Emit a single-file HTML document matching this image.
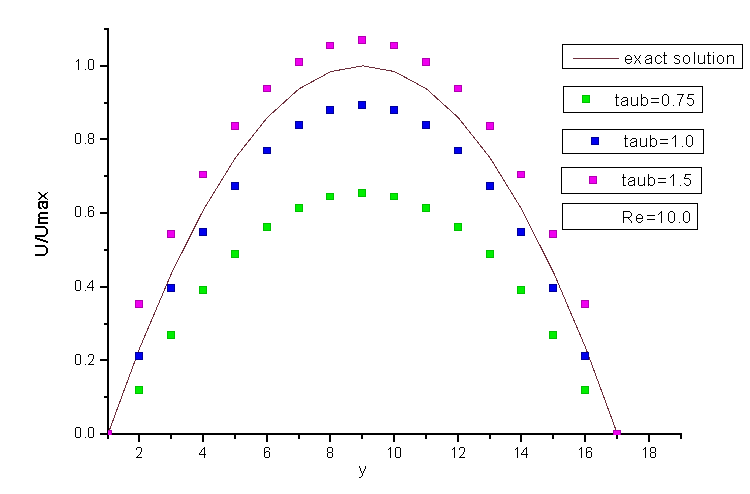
<!DOCTYPE html><html><head><meta charset="utf-8"><style>html,body{margin:0;padding:0;background:#fff;overflow:hidden;}svg{display:block;}text{font-family:"Liberation Sans",sans-serif;}</style></head><body>
<svg width="750" height="494" viewBox="0 0 750 494" shape-rendering="crispEdges">
<rect x="0" y="0" width="750" height="494" fill="#fff"/>
<defs><filter id="th" x="-10%" y="-10%" width="120%" height="120%" color-interpolation-filters="sRGB"><feComponentTransfer><feFuncA type="discrete" tableValues="0 0 1 1"/></feComponentTransfer></filter><clipPath id="pc"><rect x="108" y="0" width="642" height="435"/></clipPath></defs>
<rect x="107" y="28" width="2" height="411" fill="#000"/>
<rect x="100" y="433" width="582" height="2" fill="#000"/>
<rect x="100" y="433" width="7" height="2" fill="#000"/>
<rect x="104" y="396" width="3" height="2" fill="#000"/>
<rect x="100" y="359" width="7" height="2" fill="#000"/>
<rect x="104" y="323" width="3" height="2" fill="#000"/>
<rect x="100" y="286" width="7" height="2" fill="#000"/>
<rect x="104" y="249" width="3" height="2" fill="#000"/>
<rect x="100" y="212" width="7" height="2" fill="#000"/>
<rect x="104" y="175" width="3" height="2" fill="#000"/>
<rect x="100" y="138" width="7" height="2" fill="#000"/>
<rect x="104" y="102" width="3" height="2" fill="#000"/>
<rect x="100" y="65" width="7" height="2" fill="#000"/>
<rect x="104" y="28" width="3" height="2" fill="#000"/>
<rect x="107" y="435" width="2" height="4" fill="#000"/>
<rect x="138" y="435" width="2" height="7" fill="#000"/>
<rect x="170" y="435" width="2" height="4" fill="#000"/>
<rect x="202" y="435" width="2" height="7" fill="#000"/>
<rect x="234" y="435" width="2" height="4" fill="#000"/>
<rect x="266" y="435" width="2" height="7" fill="#000"/>
<rect x="298" y="435" width="2" height="4" fill="#000"/>
<rect x="329" y="435" width="2" height="7" fill="#000"/>
<rect x="361" y="435" width="2" height="4" fill="#000"/>
<rect x="393" y="435" width="2" height="7" fill="#000"/>
<rect x="425" y="435" width="2" height="4" fill="#000"/>
<rect x="457" y="435" width="2" height="7" fill="#000"/>
<rect x="489" y="435" width="2" height="4" fill="#000"/>
<rect x="520" y="435" width="2" height="7" fill="#000"/>
<rect x="552" y="435" width="2" height="4" fill="#000"/>
<rect x="584" y="435" width="2" height="7" fill="#000"/>
<rect x="616" y="435" width="2" height="4" fill="#000"/>
<rect x="648" y="435" width="2" height="7" fill="#000"/>
<rect x="680" y="435" width="2" height="4" fill="#000"/>
<polyline points="108.00,434.00 139.84,347.71 171.68,272.92 203.52,209.64 235.36,157.87 267.20,117.60 299.04,88.83 330.88,71.57 362.72,65.82 394.56,71.57 426.40,88.83 458.24,117.60 490.08,157.87 521.92,209.64 553.76,272.92 585.60,347.71 617.44,434.00" fill="none" stroke="#6c2f3c" stroke-width="1" shape-rendering="crispEdges"/>
<g clip-path="url(#pc)">
<rect x="104.5" y="430.5" width="7" height="7" fill="#00ee00" stroke="#00c000" stroke-width="1"/>
<rect x="135.5" y="386.5" width="7" height="7" fill="#00ee00" stroke="#00c000" stroke-width="1"/>
<rect x="167.5" y="331.5" width="7" height="7" fill="#00ee00" stroke="#00c000" stroke-width="1"/>
<rect x="199.5" y="286.5" width="7" height="7" fill="#00ee00" stroke="#00c000" stroke-width="1"/>
<rect x="231.5" y="250.5" width="7" height="7" fill="#00ee00" stroke="#00c000" stroke-width="1"/>
<rect x="263.5" y="223.5" width="7" height="7" fill="#00ee00" stroke="#00c000" stroke-width="1"/>
<rect x="295.5" y="204.5" width="7" height="7" fill="#00ee00" stroke="#00c000" stroke-width="1"/>
<rect x="326.5" y="193.5" width="7" height="6" fill="#00ee00" stroke="#00c000" stroke-width="1"/>
<rect x="358.5" y="189.5" width="7" height="7" fill="#00ee00" stroke="#00c000" stroke-width="1"/>
<rect x="390.5" y="193.5" width="7" height="6" fill="#00ee00" stroke="#00c000" stroke-width="1"/>
<rect x="422.5" y="204.5" width="7" height="7" fill="#00ee00" stroke="#00c000" stroke-width="1"/>
<rect x="454.5" y="223.5" width="7" height="7" fill="#00ee00" stroke="#00c000" stroke-width="1"/>
<rect x="486.5" y="250.5" width="7" height="7" fill="#00ee00" stroke="#00c000" stroke-width="1"/>
<rect x="517.5" y="286.5" width="7" height="7" fill="#00ee00" stroke="#00c000" stroke-width="1"/>
<rect x="549.5" y="331.5" width="7" height="7" fill="#00ee00" stroke="#00c000" stroke-width="1"/>
<rect x="581.5" y="386.5" width="7" height="7" fill="#00ee00" stroke="#00c000" stroke-width="1"/>
<rect x="613.5" y="430.5" width="7" height="7" fill="#00ee00" stroke="#00c000" stroke-width="1"/>
<rect x="104.5" y="430.5" width="7" height="7" fill="#0000ee" stroke="#000099" stroke-width="1"/>
<rect x="135.5" y="352.5" width="7" height="7" fill="#0000ee" stroke="#000099" stroke-width="1"/>
<rect x="167.5" y="284.5" width="7" height="7" fill="#0000ee" stroke="#000099" stroke-width="1"/>
<rect x="199.5" y="228.5" width="7" height="7" fill="#0000ee" stroke="#000099" stroke-width="1"/>
<rect x="231.5" y="182.5" width="7" height="7" fill="#0000ee" stroke="#000099" stroke-width="1"/>
<rect x="263.5" y="147.5" width="7" height="6" fill="#0000ee" stroke="#000099" stroke-width="1"/>
<rect x="295.5" y="121.5" width="7" height="7" fill="#0000ee" stroke="#000099" stroke-width="1"/>
<rect x="326.5" y="106.5" width="7" height="7" fill="#0000ee" stroke="#000099" stroke-width="1"/>
<rect x="358.5" y="101.5" width="7" height="7" fill="#0000ee" stroke="#000099" stroke-width="1"/>
<rect x="390.5" y="106.5" width="7" height="7" fill="#0000ee" stroke="#000099" stroke-width="1"/>
<rect x="422.5" y="121.5" width="7" height="7" fill="#0000ee" stroke="#000099" stroke-width="1"/>
<rect x="454.5" y="147.5" width="7" height="6" fill="#0000ee" stroke="#000099" stroke-width="1"/>
<rect x="486.5" y="182.5" width="7" height="7" fill="#0000ee" stroke="#000099" stroke-width="1"/>
<rect x="517.5" y="228.5" width="7" height="7" fill="#0000ee" stroke="#000099" stroke-width="1"/>
<rect x="549.5" y="284.5" width="7" height="7" fill="#0000ee" stroke="#000099" stroke-width="1"/>
<rect x="581.5" y="352.5" width="7" height="7" fill="#0000ee" stroke="#000099" stroke-width="1"/>
<rect x="613.5" y="430.5" width="7" height="7" fill="#0000ee" stroke="#000099" stroke-width="1"/>
<rect x="104.5" y="430.5" width="7" height="7" fill="#f000f0" stroke="#b000b0" stroke-width="1"/>
<rect x="135.5" y="300.5" width="7" height="7" fill="#f000f0" stroke="#b000b0" stroke-width="1"/>
<rect x="167.5" y="230.5" width="7" height="7" fill="#f000f0" stroke="#b000b0" stroke-width="1"/>
<rect x="199.5" y="171.5" width="7" height="6" fill="#f000f0" stroke="#b000b0" stroke-width="1"/>
<rect x="231.5" y="122.5" width="7" height="7" fill="#f000f0" stroke="#b000b0" stroke-width="1"/>
<rect x="263.5" y="85.5" width="7" height="6" fill="#f000f0" stroke="#b000b0" stroke-width="1"/>
<rect x="295.5" y="58.5" width="7" height="7" fill="#f000f0" stroke="#b000b0" stroke-width="1"/>
<rect x="326.5" y="42.5" width="7" height="6" fill="#f000f0" stroke="#b000b0" stroke-width="1"/>
<rect x="358.5" y="36.5" width="7" height="7" fill="#f000f0" stroke="#b000b0" stroke-width="1"/>
<rect x="390.5" y="42.5" width="7" height="6" fill="#f000f0" stroke="#b000b0" stroke-width="1"/>
<rect x="422.5" y="58.5" width="7" height="7" fill="#f000f0" stroke="#b000b0" stroke-width="1"/>
<rect x="454.5" y="85.5" width="7" height="6" fill="#f000f0" stroke="#b000b0" stroke-width="1"/>
<rect x="486.5" y="122.5" width="7" height="7" fill="#f000f0" stroke="#b000b0" stroke-width="1"/>
<rect x="517.5" y="171.5" width="7" height="6" fill="#f000f0" stroke="#b000b0" stroke-width="1"/>
<rect x="549.5" y="230.5" width="7" height="7" fill="#f000f0" stroke="#b000b0" stroke-width="1"/>
<rect x="581.5" y="300.5" width="7" height="7" fill="#f000f0" stroke="#b000b0" stroke-width="1"/>
<rect x="613.5" y="430.5" width="7" height="7" fill="#f000f0" stroke="#b000b0" stroke-width="1"/>
</g>
<rect x="562.5" y="44.5" width="180" height="24" fill="#fff" stroke="#000" stroke-width="1"/>
<rect x="573" y="58" width="46" height="1" fill="#6c2f3c"/>
<rect x="563.5" y="86.5" width="139" height="26" fill="#fff" stroke="#000" stroke-width="1"/>
<rect x="582.5" y="95.5" width="7" height="7" fill="#00ee00" stroke="#00c000" stroke-width="1"/>
<rect x="562.5" y="129.5" width="141" height="24" fill="#fff" stroke="#000" stroke-width="1"/>
<rect x="591.5" y="137.5" width="7" height="7" fill="#0000ee" stroke="#000099" stroke-width="1"/>
<rect x="561.5" y="167.5" width="140" height="26" fill="#fff" stroke="#000" stroke-width="1"/>
<rect x="589.5" y="176.5" width="7" height="7" fill="#f000f0" stroke="#b000b0" stroke-width="1"/>
<rect x="562.5" y="203.5" width="135" height="26" fill="#fff" stroke="#000" stroke-width="1"/>
<path d="M76 427h4v1h-4zM75 428h1v1h-1zM80 428h1v1h-1zM75 429h1v1h-1zM80 429h1v1h-1zM75 430h1v1h-1zM80 430h1v1h-1zM75 431h1v1h-1zM80 431h1v1h-1zM75 432h1v1h-1zM80 432h1v1h-1zM75 433h1v1h-1zM80 433h1v1h-1zM75 434h1v1h-1zM80 434h1v1h-1zM75 435h1v1h-1zM80 435h1v1h-1zM75 436h1v1h-1zM80 436h1v1h-1zM76 437h4v1h-4zM85 437h1v1h-1zM89 427h4v1h-4zM88 428h1v1h-1zM93 428h1v1h-1zM88 429h1v1h-1zM93 429h1v1h-1zM88 430h1v1h-1zM93 430h1v1h-1zM88 431h1v1h-1zM93 431h1v1h-1zM88 432h1v1h-1zM93 432h1v1h-1zM88 433h1v1h-1zM93 433h1v1h-1zM88 434h1v1h-1zM93 434h1v1h-1zM88 435h1v1h-1zM93 435h1v1h-1zM88 436h1v1h-1zM93 436h1v1h-1zM89 437h4v1h-4zM76 354h4v1h-4zM75 355h1v1h-1zM80 355h1v1h-1zM75 356h1v1h-1zM80 356h1v1h-1zM75 357h1v1h-1zM80 357h1v1h-1zM75 358h1v1h-1zM80 358h1v1h-1zM75 359h1v1h-1zM80 359h1v1h-1zM75 360h1v1h-1zM80 360h1v1h-1zM75 361h1v1h-1zM80 361h1v1h-1zM75 362h1v1h-1zM80 362h1v1h-1zM75 363h1v1h-1zM80 363h1v1h-1zM76 364h4v1h-4zM85 364h1v1h-1zM89 354h4v1h-4zM88 355h1v1h-1zM93 355h1v1h-1zM88 356h1v1h-1zM93 356h1v1h-1zM93 357h1v1h-1zM93 358h1v1h-1zM92 359h1v1h-1zM92 360h1v1h-1zM91 361h1v1h-1zM90 362h1v1h-1zM89 363h1v1h-1zM88 364h6v1h-6zM76 280h4v1h-4zM75 281h1v1h-1zM80 281h1v1h-1zM75 282h1v1h-1zM80 282h1v1h-1zM75 283h1v1h-1zM80 283h1v1h-1zM75 284h1v1h-1zM80 284h1v1h-1zM75 285h1v1h-1zM80 285h1v1h-1zM75 286h1v1h-1zM80 286h1v1h-1zM75 287h1v1h-1zM80 287h1v1h-1zM75 288h1v1h-1zM80 288h1v1h-1zM75 289h1v1h-1zM80 289h1v1h-1zM76 290h4v1h-4zM85 290h1v1h-1zM92 280h1v1h-1zM91 281h2v1h-2zM90 282h1v1h-1zM92 282h1v1h-1zM89 283h1v1h-1zM92 283h1v1h-1zM89 284h1v1h-1zM92 284h1v1h-1zM88 285h1v1h-1zM92 285h1v1h-1zM87 286h1v1h-1zM92 286h1v1h-1zM87 287h7v1h-7zM92 288h1v1h-1zM92 289h1v1h-1zM92 290h1v1h-1zM76 206h4v1h-4zM75 207h1v1h-1zM80 207h1v1h-1zM75 208h1v1h-1zM80 208h1v1h-1zM75 209h1v1h-1zM80 209h1v1h-1zM75 210h1v1h-1zM80 210h1v1h-1zM75 211h1v1h-1zM80 211h1v1h-1zM75 212h1v1h-1zM80 212h1v1h-1zM75 213h1v1h-1zM80 213h1v1h-1zM75 214h1v1h-1zM80 214h1v1h-1zM75 215h1v1h-1zM80 215h1v1h-1zM76 216h4v1h-4zM85 216h1v1h-1zM89 206h4v1h-4zM88 207h1v1h-1zM93 207h1v1h-1zM88 208h1v1h-1zM93 208h1v1h-1zM88 209h1v1h-1zM88 210h1v1h-1zM90 210h3v1h-3zM88 211h2v1h-2zM93 211h1v1h-1zM88 212h1v1h-1zM93 212h1v1h-1zM88 213h1v1h-1zM93 213h1v1h-1zM88 214h1v1h-1zM93 214h1v1h-1zM88 215h1v1h-1zM93 215h1v1h-1zM89 216h4v1h-4zM76 133h4v1h-4zM75 134h1v1h-1zM80 134h1v1h-1zM75 135h1v1h-1zM80 135h1v1h-1zM75 136h1v1h-1zM80 136h1v1h-1zM75 137h1v1h-1zM80 137h1v1h-1zM75 138h1v1h-1zM80 138h1v1h-1zM75 139h1v1h-1zM80 139h1v1h-1zM75 140h1v1h-1zM80 140h1v1h-1zM75 141h1v1h-1zM80 141h1v1h-1zM75 142h1v1h-1zM80 142h1v1h-1zM76 143h4v1h-4zM85 143h1v1h-1zM89 133h4v1h-4zM88 134h1v1h-1zM93 134h1v1h-1zM88 135h1v1h-1zM93 135h1v1h-1zM88 136h1v1h-1zM93 136h1v1h-1zM88 137h1v1h-1zM93 137h1v1h-1zM89 138h4v1h-4zM88 139h1v1h-1zM93 139h1v1h-1zM88 140h1v1h-1zM93 140h1v1h-1zM88 141h1v1h-1zM93 141h1v1h-1zM88 142h1v1h-1zM93 142h1v1h-1zM89 143h4v1h-4zM78 59h1v1h-1zM77 60h2v1h-2zM76 61h1v1h-1zM78 61h1v1h-1zM78 62h1v1h-1zM78 63h1v1h-1zM78 64h1v1h-1zM78 65h1v1h-1zM78 66h1v1h-1zM78 67h1v1h-1zM78 68h1v1h-1zM78 69h1v1h-1zM85 69h1v1h-1zM89 59h4v1h-4zM88 60h1v1h-1zM93 60h1v1h-1zM88 61h1v1h-1zM93 61h1v1h-1zM88 62h1v1h-1zM93 62h1v1h-1zM88 63h1v1h-1zM93 63h1v1h-1zM88 64h1v1h-1zM93 64h1v1h-1zM88 65h1v1h-1zM93 65h1v1h-1zM88 66h1v1h-1zM93 66h1v1h-1zM88 67h1v1h-1zM93 67h1v1h-1zM88 68h1v1h-1zM93 68h1v1h-1zM89 69h4v1h-4zM137 447h4v1h-4zM136 448h1v1h-1zM141 448h1v1h-1zM136 449h1v1h-1zM141 449h1v1h-1zM141 450h1v1h-1zM141 451h1v1h-1zM140 452h1v1h-1zM140 453h1v1h-1zM139 454h1v1h-1zM138 455h1v1h-1zM137 456h1v1h-1zM136 457h6v1h-6zM204 447h1v1h-1zM203 448h2v1h-2zM202 449h1v1h-1zM204 449h1v1h-1zM201 450h1v1h-1zM204 450h1v1h-1zM201 451h1v1h-1zM204 451h1v1h-1zM200 452h1v1h-1zM204 452h1v1h-1zM199 453h1v1h-1zM204 453h1v1h-1zM199 454h7v1h-7zM204 455h1v1h-1zM204 456h1v1h-1zM204 457h1v1h-1zM265 447h4v1h-4zM264 448h1v1h-1zM269 448h1v1h-1zM264 449h1v1h-1zM269 449h1v1h-1zM264 450h1v1h-1zM264 451h1v1h-1zM266 451h3v1h-3zM264 452h2v1h-2zM269 452h1v1h-1zM264 453h1v1h-1zM269 453h1v1h-1zM264 454h1v1h-1zM269 454h1v1h-1zM264 455h1v1h-1zM269 455h1v1h-1zM264 456h1v1h-1zM269 456h1v1h-1zM265 457h4v1h-4zM328 447h4v1h-4zM327 448h1v1h-1zM332 448h1v1h-1zM327 449h1v1h-1zM332 449h1v1h-1zM327 450h1v1h-1zM332 450h1v1h-1zM327 451h1v1h-1zM332 451h1v1h-1zM328 452h4v1h-4zM327 453h1v1h-1zM332 453h1v1h-1zM327 454h1v1h-1zM332 454h1v1h-1zM327 455h1v1h-1zM332 455h1v1h-1zM327 456h1v1h-1zM332 456h1v1h-1zM328 457h4v1h-4zM390 447h1v1h-1zM389 448h2v1h-2zM388 449h1v1h-1zM390 449h1v1h-1zM390 450h1v1h-1zM390 451h1v1h-1zM390 452h1v1h-1zM390 453h1v1h-1zM390 454h1v1h-1zM390 455h1v1h-1zM390 456h1v1h-1zM390 457h1v1h-1zM396 447h4v1h-4zM395 448h1v1h-1zM400 448h1v1h-1zM395 449h1v1h-1zM400 449h1v1h-1zM395 450h1v1h-1zM400 450h1v1h-1zM395 451h1v1h-1zM400 451h1v1h-1zM395 452h1v1h-1zM400 452h1v1h-1zM395 453h1v1h-1zM400 453h1v1h-1zM395 454h1v1h-1zM400 454h1v1h-1zM395 455h1v1h-1zM400 455h1v1h-1zM395 456h1v1h-1zM400 456h1v1h-1zM396 457h4v1h-4zM454 447h1v1h-1zM453 448h2v1h-2zM452 449h1v1h-1zM454 449h1v1h-1zM454 450h1v1h-1zM454 451h1v1h-1zM454 452h1v1h-1zM454 453h1v1h-1zM454 454h1v1h-1zM454 455h1v1h-1zM454 456h1v1h-1zM454 457h1v1h-1zM460 447h4v1h-4zM459 448h1v1h-1zM464 448h1v1h-1zM459 449h1v1h-1zM464 449h1v1h-1zM464 450h1v1h-1zM464 451h1v1h-1zM463 452h1v1h-1zM463 453h1v1h-1zM462 454h1v1h-1zM461 455h1v1h-1zM460 456h1v1h-1zM459 457h6v1h-6zM517 447h1v1h-1zM516 448h2v1h-2zM515 449h1v1h-1zM517 449h1v1h-1zM517 450h1v1h-1zM517 451h1v1h-1zM517 452h1v1h-1zM517 453h1v1h-1zM517 454h1v1h-1zM517 455h1v1h-1zM517 456h1v1h-1zM517 457h1v1h-1zM526 447h1v1h-1zM525 448h2v1h-2zM524 449h1v1h-1zM526 449h1v1h-1zM523 450h1v1h-1zM526 450h1v1h-1zM523 451h1v1h-1zM526 451h1v1h-1zM522 452h1v1h-1zM526 452h1v1h-1zM521 453h1v1h-1zM526 453h1v1h-1zM521 454h7v1h-7zM526 455h1v1h-1zM526 456h1v1h-1zM526 457h1v1h-1zM581 447h1v1h-1zM580 448h2v1h-2zM579 449h1v1h-1zM581 449h1v1h-1zM581 450h1v1h-1zM581 451h1v1h-1zM581 452h1v1h-1zM581 453h1v1h-1zM581 454h1v1h-1zM581 455h1v1h-1zM581 456h1v1h-1zM581 457h1v1h-1zM587 447h4v1h-4zM586 448h1v1h-1zM591 448h1v1h-1zM586 449h1v1h-1zM591 449h1v1h-1zM586 450h1v1h-1zM586 451h1v1h-1zM588 451h3v1h-3zM586 452h2v1h-2zM591 452h1v1h-1zM586 453h1v1h-1zM591 453h1v1h-1zM586 454h1v1h-1zM591 454h1v1h-1zM586 455h1v1h-1zM591 455h1v1h-1zM586 456h1v1h-1zM591 456h1v1h-1zM587 457h4v1h-4zM645 447h1v1h-1zM644 448h2v1h-2zM643 449h1v1h-1zM645 449h1v1h-1zM645 450h1v1h-1zM645 451h1v1h-1zM645 452h1v1h-1zM645 453h1v1h-1zM645 454h1v1h-1zM645 455h1v1h-1zM645 456h1v1h-1zM645 457h1v1h-1zM651 447h4v1h-4zM650 448h1v1h-1zM655 448h1v1h-1zM650 449h1v1h-1zM655 449h1v1h-1zM650 450h1v1h-1zM655 450h1v1h-1zM650 451h1v1h-1zM655 451h1v1h-1zM651 452h4v1h-4zM650 453h1v1h-1zM655 453h1v1h-1zM650 454h1v1h-1zM655 454h1v1h-1zM650 455h1v1h-1zM655 455h1v1h-1zM650 456h1v1h-1zM655 456h1v1h-1zM651 457h4v1h-4zM359 466h1v1h-1zM365 466h1v1h-1zM359 467h1v1h-1zM365 467h1v1h-1zM360 468h1v1h-1zM365 468h1v1h-1zM360 469h1v1h-1zM364 469h1v1h-1zM360 470h1v1h-1zM364 470h1v1h-1zM361 471h1v1h-1zM363 471h1v1h-1zM361 472h1v1h-1zM363 472h1v1h-1zM362 473h1v1h-1zM362 474h1v1h-1zM362 475h1v1h-1zM361 476h1v1h-1zM359 477h2v1h-2zM627 55h3v1h-3zM626 56h1v1h-1zM630 56h1v1h-1zM625 57h1v1h-1zM631 57h1v1h-1zM625 58h1v1h-1zM631 58h1v1h-1zM625 59h7v1h-7zM625 60h1v1h-1zM625 61h1v1h-1zM631 61h1v1h-1zM626 62h1v1h-1zM630 62h1v1h-1zM627 63h3v1h-3zM634 55h1v1h-1zM640 55h1v1h-1zM635 56h1v1h-1zM639 56h1v1h-1zM635 57h1v1h-1zM639 57h1v1h-1zM636 58h1v1h-1zM638 58h1v1h-1zM637 59h1v1h-1zM636 60h1v1h-1zM638 60h1v1h-1zM635 61h1v1h-1zM639 61h1v1h-1zM635 62h1v1h-1zM639 62h1v1h-1zM634 63h1v1h-1zM640 63h1v1h-1zM647 55h4v1h-4zM646 56h1v1h-1zM651 56h1v1h-1zM645 57h1v1h-1zM651 57h1v1h-1zM649 58h3v1h-3zM646 59h3v1h-3zM651 59h1v1h-1zM645 60h1v1h-1zM651 60h1v1h-1zM645 61h1v1h-1zM651 61h1v1h-1zM645 62h1v1h-1zM650 62h2v1h-2zM646 63h4v1h-4zM651 63h1v1h-1zM657 55h3v1h-3zM656 56h1v1h-1zM660 56h1v1h-1zM655 57h1v1h-1zM661 57h1v1h-1zM655 58h1v1h-1zM655 59h1v1h-1zM655 60h1v1h-1zM655 61h1v1h-1zM661 61h1v1h-1zM656 62h1v1h-1zM660 62h1v1h-1zM657 63h3v1h-3zM664 52h1v1h-1zM664 53h1v1h-1zM664 54h1v1h-1zM663 55h4v1h-4zM664 56h1v1h-1zM664 57h1v1h-1zM664 58h1v1h-1zM664 59h1v1h-1zM664 60h1v1h-1zM664 61h1v1h-1zM664 62h1v1h-1zM664 63h3v1h-3zM675 55h4v1h-4zM674 56h1v1h-1zM679 56h1v1h-1zM674 57h1v1h-1zM675 58h2v1h-2zM677 59h2v1h-2zM679 60h1v1h-1zM679 61h1v1h-1zM674 62h1v1h-1zM679 62h1v1h-1zM675 63h4v1h-4zM685 55h3v1h-3zM684 56h1v1h-1zM688 56h1v1h-1zM683 57h1v1h-1zM689 57h1v1h-1zM683 58h1v1h-1zM689 58h1v1h-1zM683 59h1v1h-1zM689 59h1v1h-1zM683 60h1v1h-1zM689 60h1v1h-1zM683 61h1v1h-1zM689 61h1v1h-1zM684 62h1v1h-1zM688 62h1v1h-1zM685 63h3v1h-3zM694 52h1v1h-1zM694 53h1v1h-1zM694 54h1v1h-1zM694 55h1v1h-1zM694 56h1v1h-1zM694 57h1v1h-1zM694 58h1v1h-1zM694 59h1v1h-1zM694 60h1v1h-1zM694 61h1v1h-1zM694 62h1v1h-1zM694 63h1v1h-1zM698 55h1v1h-1zM704 55h1v1h-1zM698 56h1v1h-1zM704 56h1v1h-1zM698 57h1v1h-1zM704 57h1v1h-1zM698 58h1v1h-1zM704 58h1v1h-1zM698 59h1v1h-1zM704 59h1v1h-1zM698 60h1v1h-1zM704 60h1v1h-1zM698 61h1v1h-1zM704 61h1v1h-1zM698 62h1v1h-1zM703 62h2v1h-2zM699 63h4v1h-4zM704 63h1v1h-1zM708 52h1v1h-1zM708 53h1v1h-1zM708 54h1v1h-1zM707 55h4v1h-4zM708 56h1v1h-1zM708 57h1v1h-1zM708 58h1v1h-1zM708 59h1v1h-1zM708 60h1v1h-1zM708 61h1v1h-1zM708 62h1v1h-1zM708 63h3v1h-3zM713 52h1v1h-1zM713 55h1v1h-1zM713 56h1v1h-1zM713 57h1v1h-1zM713 58h1v1h-1zM713 59h1v1h-1zM713 60h1v1h-1zM713 61h1v1h-1zM713 62h1v1h-1zM713 63h1v1h-1zM719 55h3v1h-3zM718 56h1v1h-1zM722 56h1v1h-1zM717 57h1v1h-1zM723 57h1v1h-1zM717 58h1v1h-1zM723 58h1v1h-1zM717 59h1v1h-1zM723 59h1v1h-1zM717 60h1v1h-1zM723 60h1v1h-1zM717 61h1v1h-1zM723 61h1v1h-1zM718 62h1v1h-1zM722 62h1v1h-1zM719 63h3v1h-3zM727 55h1v1h-1zM729 55h4v1h-4zM727 56h2v1h-2zM733 56h1v1h-1zM727 57h1v1h-1zM733 57h1v1h-1zM727 58h1v1h-1zM733 58h1v1h-1zM727 59h1v1h-1zM733 59h1v1h-1zM727 60h1v1h-1zM733 60h1v1h-1zM727 61h1v1h-1zM733 61h1v1h-1zM727 62h1v1h-1zM733 62h1v1h-1zM727 63h1v1h-1zM733 63h1v1h-1zM616 94h1v1h-1zM616 95h1v1h-1zM616 96h1v1h-1zM615 97h4v1h-4zM616 98h1v1h-1zM616 99h1v1h-1zM616 100h1v1h-1zM616 101h1v1h-1zM616 102h1v1h-1zM616 103h1v1h-1zM616 104h1v1h-1zM616 105h3v1h-3zM623 97h4v1h-4zM622 98h1v1h-1zM627 98h1v1h-1zM621 99h1v1h-1zM627 99h1v1h-1zM625 100h3v1h-3zM622 101h3v1h-3zM627 101h1v1h-1zM621 102h1v1h-1zM627 102h1v1h-1zM621 103h1v1h-1zM627 103h1v1h-1zM621 104h1v1h-1zM626 104h2v1h-2zM622 105h4v1h-4zM627 105h1v1h-1zM631 97h1v1h-1zM637 97h1v1h-1zM631 98h1v1h-1zM637 98h1v1h-1zM631 99h1v1h-1zM637 99h1v1h-1zM631 100h1v1h-1zM637 100h1v1h-1zM631 101h1v1h-1zM637 101h1v1h-1zM631 102h1v1h-1zM637 102h1v1h-1zM631 103h1v1h-1zM637 103h1v1h-1zM631 104h1v1h-1zM636 104h2v1h-2zM632 105h4v1h-4zM637 105h1v1h-1zM641 94h1v1h-1zM641 95h1v1h-1zM641 96h1v1h-1zM641 97h1v1h-1zM643 97h3v1h-3zM641 98h2v1h-2zM646 98h1v1h-1zM641 99h1v1h-1zM647 99h1v1h-1zM641 100h1v1h-1zM647 100h1v1h-1zM641 101h1v1h-1zM647 101h1v1h-1zM641 102h1v1h-1zM647 102h1v1h-1zM641 103h1v1h-1zM647 103h1v1h-1zM641 104h2v1h-2zM646 104h1v1h-1zM641 105h1v1h-1zM643 105h3v1h-3zM651 98h8v1h-8zM651 102h8v1h-8zM664 94h3v1h-3zM663 95h1v1h-1zM667 95h1v1h-1zM662 96h1v1h-1zM668 96h1v1h-1zM662 97h1v1h-1zM668 97h1v1h-1zM662 98h1v1h-1zM668 98h1v1h-1zM662 99h1v1h-1zM668 99h1v1h-1zM662 100h1v1h-1zM668 100h1v1h-1zM662 101h1v1h-1zM668 101h1v1h-1zM662 102h1v1h-1zM668 102h1v1h-1zM662 103h1v1h-1zM668 103h1v1h-1zM663 104h1v1h-1zM667 104h1v1h-1zM664 105h3v1h-3zM673 105h1v1h-1zM677 94h7v1h-7zM682 95h1v1h-1zM682 96h1v1h-1zM681 97h1v1h-1zM681 98h1v1h-1zM680 99h1v1h-1zM680 100h1v1h-1zM680 101h1v1h-1zM679 102h1v1h-1zM679 103h1v1h-1zM679 104h1v1h-1zM679 105h1v1h-1zM688 94h6v1h-6zM688 95h1v1h-1zM688 96h1v1h-1zM687 97h1v1h-1zM687 98h5v1h-5zM692 99h1v1h-1zM693 100h1v1h-1zM693 101h1v1h-1zM693 102h1v1h-1zM687 103h1v1h-1zM693 103h1v1h-1zM688 104h1v1h-1zM692 104h1v1h-1zM689 105h3v1h-3zM625 135h1v1h-1zM625 136h1v1h-1zM625 137h1v1h-1zM624 138h4v1h-4zM625 139h1v1h-1zM625 140h1v1h-1zM625 141h1v1h-1zM625 142h1v1h-1zM625 143h1v1h-1zM625 144h1v1h-1zM625 145h1v1h-1zM625 146h3v1h-3zM632 138h4v1h-4zM631 139h1v1h-1zM636 139h1v1h-1zM630 140h1v1h-1zM636 140h1v1h-1zM634 141h3v1h-3zM631 142h3v1h-3zM636 142h1v1h-1zM630 143h1v1h-1zM636 143h1v1h-1zM630 144h1v1h-1zM636 144h1v1h-1zM630 145h1v1h-1zM635 145h2v1h-2zM631 146h4v1h-4zM636 146h1v1h-1zM640 138h1v1h-1zM646 138h1v1h-1zM640 139h1v1h-1zM646 139h1v1h-1zM640 140h1v1h-1zM646 140h1v1h-1zM640 141h1v1h-1zM646 141h1v1h-1zM640 142h1v1h-1zM646 142h1v1h-1zM640 143h1v1h-1zM646 143h1v1h-1zM640 144h1v1h-1zM646 144h1v1h-1zM640 145h1v1h-1zM645 145h2v1h-2zM641 146h4v1h-4zM646 146h1v1h-1zM650 135h1v1h-1zM650 136h1v1h-1zM650 137h1v1h-1zM650 138h1v1h-1zM652 138h3v1h-3zM650 139h2v1h-2zM655 139h1v1h-1zM650 140h1v1h-1zM656 140h1v1h-1zM650 141h1v1h-1zM656 141h1v1h-1zM650 142h1v1h-1zM656 142h1v1h-1zM650 143h1v1h-1zM656 143h1v1h-1zM650 144h1v1h-1zM656 144h1v1h-1zM650 145h2v1h-2zM655 145h1v1h-1zM650 146h1v1h-1zM652 146h3v1h-3zM660 139h8v1h-8zM660 143h8v1h-8zM675 135h1v1h-1zM674 136h2v1h-2zM673 137h1v1h-1zM675 137h1v1h-1zM672 138h1v1h-1zM675 138h1v1h-1zM675 139h1v1h-1zM675 140h1v1h-1zM675 141h1v1h-1zM675 142h1v1h-1zM675 143h1v1h-1zM675 144h1v1h-1zM675 145h1v1h-1zM675 146h1v1h-1zM682 146h1v1h-1zM688 135h3v1h-3zM687 136h1v1h-1zM691 136h1v1h-1zM686 137h1v1h-1zM692 137h1v1h-1zM686 138h1v1h-1zM692 138h1v1h-1zM686 139h1v1h-1zM692 139h1v1h-1zM686 140h1v1h-1zM692 140h1v1h-1zM686 141h1v1h-1zM692 141h1v1h-1zM686 142h1v1h-1zM692 142h1v1h-1zM686 143h1v1h-1zM692 143h1v1h-1zM686 144h1v1h-1zM692 144h1v1h-1zM687 145h1v1h-1zM691 145h1v1h-1zM688 146h3v1h-3zM623 174h1v1h-1zM623 175h1v1h-1zM623 176h1v1h-1zM622 177h4v1h-4zM623 178h1v1h-1zM623 179h1v1h-1zM623 180h1v1h-1zM623 181h1v1h-1zM623 182h1v1h-1zM623 183h1v1h-1zM623 184h1v1h-1zM623 185h3v1h-3zM630 177h4v1h-4zM629 178h1v1h-1zM634 178h1v1h-1zM628 179h1v1h-1zM634 179h1v1h-1zM632 180h3v1h-3zM629 181h3v1h-3zM634 181h1v1h-1zM628 182h1v1h-1zM634 182h1v1h-1zM628 183h1v1h-1zM634 183h1v1h-1zM628 184h1v1h-1zM633 184h2v1h-2zM629 185h4v1h-4zM634 185h1v1h-1zM638 177h1v1h-1zM644 177h1v1h-1zM638 178h1v1h-1zM644 178h1v1h-1zM638 179h1v1h-1zM644 179h1v1h-1zM638 180h1v1h-1zM644 180h1v1h-1zM638 181h1v1h-1zM644 181h1v1h-1zM638 182h1v1h-1zM644 182h1v1h-1zM638 183h1v1h-1zM644 183h1v1h-1zM638 184h1v1h-1zM643 184h2v1h-2zM639 185h4v1h-4zM644 185h1v1h-1zM648 174h1v1h-1zM648 175h1v1h-1zM648 176h1v1h-1zM648 177h1v1h-1zM650 177h3v1h-3zM648 178h2v1h-2zM653 178h1v1h-1zM648 179h1v1h-1zM654 179h1v1h-1zM648 180h1v1h-1zM654 180h1v1h-1zM648 181h1v1h-1zM654 181h1v1h-1zM648 182h1v1h-1zM654 182h1v1h-1zM648 183h1v1h-1zM654 183h1v1h-1zM648 184h2v1h-2zM653 184h1v1h-1zM648 185h1v1h-1zM650 185h3v1h-3zM658 178h8v1h-8zM658 182h8v1h-8zM673 174h1v1h-1zM672 175h2v1h-2zM671 176h1v1h-1zM673 176h1v1h-1zM670 177h1v1h-1zM673 177h1v1h-1zM673 178h1v1h-1zM673 179h1v1h-1zM673 180h1v1h-1zM673 181h1v1h-1zM673 182h1v1h-1zM673 183h1v1h-1zM673 184h1v1h-1zM673 185h1v1h-1zM680 185h1v1h-1zM685 174h6v1h-6zM685 175h1v1h-1zM685 176h1v1h-1zM684 177h1v1h-1zM684 178h5v1h-5zM689 179h1v1h-1zM690 180h1v1h-1zM690 181h1v1h-1zM690 182h1v1h-1zM684 183h1v1h-1zM690 183h1v1h-1zM685 184h1v1h-1zM689 184h1v1h-1zM686 185h3v1h-3zM623 211h7v1h-7zM623 212h1v1h-1zM630 212h1v1h-1zM623 213h1v1h-1zM631 213h1v1h-1zM623 214h1v1h-1zM631 214h1v1h-1zM623 215h1v1h-1zM631 215h1v1h-1zM623 216h1v1h-1zM630 216h1v1h-1zM623 217h7v1h-7zM623 218h1v1h-1zM628 218h1v1h-1zM623 219h1v1h-1zM629 219h1v1h-1zM623 220h1v1h-1zM630 220h1v1h-1zM623 221h1v1h-1zM631 221h1v1h-1zM623 222h1v1h-1zM631 222h1v1h-1zM638 214h3v1h-3zM637 215h1v1h-1zM641 215h1v1h-1zM636 216h1v1h-1zM642 216h1v1h-1zM636 217h1v1h-1zM642 217h1v1h-1zM636 218h7v1h-7zM636 219h1v1h-1zM636 220h1v1h-1zM642 220h1v1h-1zM637 221h1v1h-1zM641 221h1v1h-1zM638 222h3v1h-3zM647 215h8v1h-8zM647 219h8v1h-8zM661 211h1v1h-1zM660 212h2v1h-2zM659 213h1v1h-1zM661 213h1v1h-1zM658 214h1v1h-1zM661 214h1v1h-1zM661 215h1v1h-1zM661 216h1v1h-1zM661 217h1v1h-1zM661 218h1v1h-1zM661 219h1v1h-1zM661 220h1v1h-1zM661 221h1v1h-1zM661 222h1v1h-1zM670 211h3v1h-3zM669 212h1v1h-1zM673 212h1v1h-1zM668 213h1v1h-1zM674 213h1v1h-1zM668 214h1v1h-1zM674 214h1v1h-1zM668 215h1v1h-1zM674 215h1v1h-1zM668 216h1v1h-1zM674 216h1v1h-1zM668 217h1v1h-1zM674 217h1v1h-1zM668 218h1v1h-1zM674 218h1v1h-1zM668 219h1v1h-1zM674 219h1v1h-1zM668 220h1v1h-1zM674 220h1v1h-1zM669 221h1v1h-1zM673 221h1v1h-1zM670 222h3v1h-3zM679 222h1v1h-1zM685 211h3v1h-3zM684 212h1v1h-1zM688 212h1v1h-1zM683 213h1v1h-1zM689 213h1v1h-1zM683 214h1v1h-1zM689 214h1v1h-1zM683 215h1v1h-1zM689 215h1v1h-1zM683 216h1v1h-1zM689 216h1v1h-1zM683 217h1v1h-1zM689 217h1v1h-1zM683 218h1v1h-1zM689 218h1v1h-1zM683 219h1v1h-1zM689 219h1v1h-1zM683 220h1v1h-1zM689 220h1v1h-1zM684 221h1v1h-1zM688 221h1v1h-1zM685 222h3v1h-3z" fill="#000"/>
<path d="M38 192h1v1h-1zM39 192h1v1h-1zM47 192h1v1h-1zM39 193h1v1h-1zM40 193h1v1h-1zM45 193h1v1h-1zM46 193h1v1h-1zM40 194h1v1h-1zM41 194h1v1h-1zM44 194h1v1h-1zM45 194h1v1h-1zM41 195h1v1h-1zM42 195h1v1h-1zM43 195h1v1h-1zM44 195h1v1h-1zM41 196h1v1h-1zM42 196h1v1h-1zM43 196h1v1h-1zM44 196h1v1h-1zM40 197h1v1h-1zM41 197h1v1h-1zM44 197h1v1h-1zM45 197h1v1h-1zM39 198h1v1h-1zM40 198h1v1h-1zM45 198h1v1h-1zM46 198h1v1h-1zM38 199h1v1h-1zM39 199h1v1h-1zM47 199h1v1h-1zM39 201h1v1h-1zM40 201h1v1h-1zM41 201h1v1h-1zM42 201h1v1h-1zM43 201h1v1h-1zM44 201h1v1h-1zM45 201h1v1h-1zM46 201h1v1h-1zM47 201h1v1h-1zM38 202h1v1h-1zM39 202h1v1h-1zM40 202h1v1h-1zM41 202h1v1h-1zM42 202h1v1h-1zM43 202h1v1h-1zM44 202h1v1h-1zM45 202h1v1h-1zM46 202h1v1h-1zM47 202h1v1h-1zM38 203h1v1h-1zM39 203h1v1h-1zM42 203h1v1h-1zM43 203h1v1h-1zM46 203h1v1h-1zM47 203h1v1h-1zM38 204h1v1h-1zM39 204h1v1h-1zM42 204h1v1h-1zM46 204h1v1h-1zM47 204h1v1h-1zM38 205h1v1h-1zM39 205h1v1h-1zM42 205h1v1h-1zM46 205h1v1h-1zM47 205h1v1h-1zM38 206h1v1h-1zM39 206h1v1h-1zM42 206h1v1h-1zM43 206h1v1h-1zM46 206h1v1h-1zM47 206h1v1h-1zM38 207h1v1h-1zM39 207h1v1h-1zM40 207h1v1h-1zM43 207h1v1h-1zM44 207h1v1h-1zM45 207h1v1h-1zM46 207h1v1h-1zM47 207h1v1h-1zM39 208h1v1h-1zM40 208h1v1h-1zM41 208h1v1h-1zM44 208h1v1h-1zM45 208h1v1h-1zM46 208h1v1h-1zM40 212h1v1h-1zM41 212h1v1h-1zM42 212h1v1h-1zM43 212h1v1h-1zM44 212h1v1h-1zM45 212h1v1h-1zM46 212h1v1h-1zM47 212h1v1h-1zM39 213h1v1h-1zM40 213h1v1h-1zM41 213h1v1h-1zM42 213h1v1h-1zM43 213h1v1h-1zM44 213h1v1h-1zM45 213h1v1h-1zM46 213h1v1h-1zM47 213h1v1h-1zM38 214h1v1h-1zM39 214h1v1h-1zM38 215h1v1h-1zM39 215h1v1h-1zM38 216h1v1h-1zM39 216h1v1h-1zM39 217h1v1h-1zM40 217h1v1h-1zM41 217h1v1h-1zM42 217h1v1h-1zM43 217h1v1h-1zM44 217h1v1h-1zM45 217h1v1h-1zM46 217h1v1h-1zM47 217h1v1h-1zM38 218h1v1h-1zM39 218h1v1h-1zM40 218h1v1h-1zM41 218h1v1h-1zM42 218h1v1h-1zM43 218h1v1h-1zM44 218h1v1h-1zM45 218h1v1h-1zM46 218h1v1h-1zM47 218h1v1h-1zM38 219h1v1h-1zM39 219h1v1h-1zM38 220h1v1h-1zM39 220h1v1h-1zM38 221h1v1h-1zM39 221h1v1h-1zM38 222h1v1h-1zM39 222h1v1h-1zM40 222h1v1h-1zM41 222h1v1h-1zM42 222h1v1h-1zM43 222h1v1h-1zM44 222h1v1h-1zM45 222h1v1h-1zM46 222h1v1h-1zM47 222h1v1h-1zM38 223h1v1h-1zM39 223h1v1h-1zM40 223h1v1h-1zM41 223h1v1h-1zM42 223h1v1h-1zM43 223h1v1h-1zM44 223h1v1h-1zM45 223h1v1h-1zM46 223h1v1h-1zM47 223h1v1h-1zM35 226h1v1h-1zM36 226h1v1h-1zM37 226h1v1h-1zM38 226h1v1h-1zM39 226h1v1h-1zM40 226h1v1h-1zM41 226h1v1h-1zM42 226h1v1h-1zM43 226h1v1h-1zM44 226h1v1h-1zM35 227h1v1h-1zM36 227h1v1h-1zM37 227h1v1h-1zM38 227h1v1h-1zM39 227h1v1h-1zM40 227h1v1h-1zM41 227h1v1h-1zM42 227h1v1h-1zM43 227h1v1h-1zM44 227h1v1h-1zM45 227h1v1h-1zM45 228h1v1h-1zM46 228h1v1h-1zM46 229h1v1h-1zM47 229h1v1h-1zM46 230h1v1h-1zM47 230h1v1h-1zM46 231h1v1h-1zM47 231h1v1h-1zM46 232h1v1h-1zM47 232h1v1h-1zM46 233h1v1h-1zM47 233h1v1h-1zM45 234h1v1h-1zM46 234h1v1h-1zM35 235h1v1h-1zM36 235h1v1h-1zM37 235h1v1h-1zM38 235h1v1h-1zM39 235h1v1h-1zM40 235h1v1h-1zM41 235h1v1h-1zM42 235h1v1h-1zM43 235h1v1h-1zM44 235h1v1h-1zM45 235h1v1h-1zM35 236h1v1h-1zM36 236h1v1h-1zM37 236h1v1h-1zM38 236h1v1h-1zM39 236h1v1h-1zM40 236h1v1h-1zM41 236h1v1h-1zM42 236h1v1h-1zM43 236h1v1h-1zM44 236h1v1h-1zM35 237h1v1h-1zM36 237h1v1h-1zM35 238h1v1h-1zM36 238h1v1h-1zM37 238h1v1h-1zM38 238h1v1h-1zM39 238h1v1h-1zM37 239h1v1h-1zM38 239h1v1h-1zM39 239h1v1h-1zM40 239h1v1h-1zM41 239h1v1h-1zM42 239h1v1h-1zM40 240h1v1h-1zM41 240h1v1h-1zM42 240h1v1h-1zM43 240h1v1h-1zM44 240h1v1h-1zM45 240h1v1h-1zM43 241h1v1h-1zM44 241h1v1h-1zM45 241h1v1h-1zM46 241h1v1h-1zM47 241h1v1h-1zM46 242h1v1h-1zM47 242h1v1h-1zM35 245h1v1h-1zM36 245h1v1h-1zM37 245h1v1h-1zM38 245h1v1h-1zM39 245h1v1h-1zM40 245h1v1h-1zM41 245h1v1h-1zM42 245h1v1h-1zM43 245h1v1h-1zM44 245h1v1h-1zM35 246h1v1h-1zM36 246h1v1h-1zM37 246h1v1h-1zM38 246h1v1h-1zM39 246h1v1h-1zM40 246h1v1h-1zM41 246h1v1h-1zM42 246h1v1h-1zM43 246h1v1h-1zM44 246h1v1h-1zM45 246h1v1h-1zM45 247h1v1h-1zM46 247h1v1h-1zM46 248h1v1h-1zM47 248h1v1h-1zM46 249h1v1h-1zM47 249h1v1h-1zM46 250h1v1h-1zM47 250h1v1h-1zM46 251h1v1h-1zM47 251h1v1h-1zM46 252h1v1h-1zM47 252h1v1h-1zM45 253h1v1h-1zM46 253h1v1h-1zM35 254h1v1h-1zM36 254h1v1h-1zM37 254h1v1h-1zM38 254h1v1h-1zM39 254h1v1h-1zM40 254h1v1h-1zM41 254h1v1h-1zM42 254h1v1h-1zM43 254h1v1h-1zM44 254h1v1h-1zM45 254h1v1h-1zM35 255h1v1h-1zM36 255h1v1h-1zM37 255h1v1h-1zM38 255h1v1h-1zM39 255h1v1h-1zM40 255h1v1h-1zM41 255h1v1h-1zM42 255h1v1h-1zM43 255h1v1h-1zM44 255h1v1h-1z" fill="#000"/>
</svg></body></html>
